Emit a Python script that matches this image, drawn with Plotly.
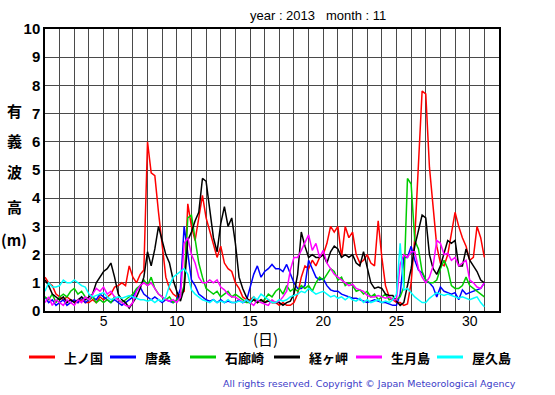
import plotly.graph_objects as go

# 6-hourly significant wave height (m), November 2013, rows = days 1..30 (00,06,12,18h), last value = day 31 00h
station_names = ["上ノ国", "唐桑", "石廊崎", "経ヶ岬", "生月島", "屋久島"]
station_colors = ["#ff0000", "#0000ff", "#00cc00", "#000000", "#ff00ff", "#00ffff"]

kaminokuni = [
    1.2, 1.0, 0.9, 0.6,  0.5, 0.4, 0.5, 0.4,  0.35, 0.3, 0.4, 0.3,  0.3, 0.4, 0.3, 0.5,
    0.4, 0.5, 0.6, 0.85,  0.9, 1.0, 0.9, 1.6,  1.2, 1.0, 1.3, 1.45,  6.0, 4.9, 4.8, 3.5,
    2.3, 1.2, 0.8, 0.6,  0.5, 0.6, 0.7, 3.8,  3.0, 2.5, 3.3, 4.1,  3.3, 2.8, 2.3, 1.9,
    2.3, 1.7, 1.5, 1.4,  1.0, 0.8, 0.5, 0.4,  0.4, 0.5, 0.3, 0.4,  0.3, 0.4, 0.3, 0.3,
    0.2, 0.3, 0.2, 0.2,  0.3, 0.6, 1.2, 1.6,  1.5, 1.8, 1.6, 1.9,  2.0, 2.4, 3.0, 2.8,
    3.0, 1.9, 3.0, 2.6,  2.8, 2.0, 1.7, 1.8,  2.0, 1.7, 1.6, 3.2,  1.9, 0.9, 0.5, 0.4,
    0.3, 0.3, 0.2, 0.25,  1.0, 2.6, 5.0, 7.8,  7.7, 5.1, 3.7, 2.3,  1.7, 1.6, 2.0, 2.8,
    3.5, 3.0, 2.6, 2.3,  1.8, 1.9, 3.0, 2.6,  1.9]
karakuwa = [
    0.5, 0.3, 0.4, 0.2,  0.3, 0.4, 0.2, 0.3,  0.4, 0.3, 0.5, 0.3,  0.4, 0.5, 0.4, 0.6,
    0.5, 0.4, 0.3, 0.4,  0.3, 0.2, 0.3, 0.4,  0.5, 0.75, 0.85, 0.6,  0.5, 0.4, 0.5, 0.4,
    0.3, 0.4, 0.35, 0.3,  0.4, 0.8, 3.0, 2.0,  1.1, 0.9, 0.6, 0.5,  0.4, 0.35, 0.4, 0.3,
    0.4, 0.3, 0.35, 0.3,  0.3, 0.4, 0.3, 0.35,  0.8, 1.3, 1.6, 1.2,  1.4, 1.5, 1.65, 1.5,
    1.5, 1.4, 1.65, 1.3,  1.0, 0.8, 0.8, 0.9,  1.8, 1.5, 1.2, 1.1,  1.15, 0.9, 0.75, 0.7,
    0.7, 0.6, 0.55, 0.5,  0.45, 0.45, 0.4, 0.35,  0.3, 0.35, 0.4, 0.35,  0.3, 0.3, 0.25, 0.2,
    0.2, 0.6, 1.9, 1.9,  2.3, 1.8, 1.45, 1.35,  1.1, 1.0, 0.85, 0.5,  0.85, 0.7, 0.65, 0.6,
    0.65, 0.4, 0.75, 0.6,  0.65, 0.7, 0.75, 0.8,  1.0]
irozaki = [
    0.5, 0.4, 0.6, 0.3,  0.5, 0.6, 0.5, 0.7,  0.8, 0.6, 0.7, 0.5,  0.4, 0.5, 0.3, 0.4,
    0.3, 0.4, 0.3, 0.5,  0.4, 0.3, 0.4, 0.5,  0.6, 0.8, 0.9, 1.1,  0.9, 1.2, 0.8, 0.6,
    0.5, 0.4, 0.5, 0.3,  0.4, 0.5, 0.9, 3.3,  3.4, 2.5, 1.7, 1.2,  0.8, 0.7, 0.6, 0.7,
    0.5, 0.6, 0.7, 0.5,  0.6, 0.5, 0.4, 0.3,  0.3, 0.4, 0.3, 0.35,  0.4, 0.6, 0.5, 0.7,
    0.8, 0.6, 0.9, 0.7,  0.8, 0.7, 0.9, 0.8,  0.9, 0.7, 1.0, 1.2,  1.1, 1.3, 1.5, 1.4,
    1.1, 1.2, 0.9, 1.0,  0.9, 0.7, 0.75, 0.6,  0.7, 0.5, 0.6, 0.4,  0.5, 0.6, 0.4, 0.45,
    0.4, 0.5, 0.85, 4.7,  4.5, 2.5, 2.2, 1.4,  1.1, 1.0, 1.0, 1.1,  1.5, 1.8, 1.5, 0.9,
    0.8, 0.8, 0.9, 1.2,  0.9, 0.8, 0.7, 0.6,  0.5]
kyogamisaki = [
    1.1, 0.9, 0.6, 0.5,  0.4, 0.5, 0.3, 0.4,  0.3, 0.4, 0.5, 0.4,  0.5, 0.6, 1.0, 1.2,
    1.4, 1.5, 1.7, 1.2,  0.6, 0.4, 0.3, 0.1,  0.3, 0.5, 0.8, 1.2,  2.1, 1.6, 2.2, 3.0,
    2.5, 2.0, 1.7, 1.1,  0.7, 0.35, 0.8, 2.5,  2.8, 3.2, 3.5, 4.7,  4.6, 3.5, 2.6, 2.1,
    3.1, 3.7, 3.0, 3.3,  2.4, 1.2, 0.8, 0.5,  0.3, 0.4, 0.3, 0.4,  0.3, 0.35, 0.3, 0.3,
    0.3, 0.2, 0.3, 0.35,  0.6, 1.3, 2.8, 2.3,  1.9, 2.0, 1.9, 1.9,  2.0, 1.7, 2.1, 2.3,
    2.2, 1.9, 2.0, 1.9,  2.0, 1.7, 1.6, 2.1,  1.5, 1.0, 0.8, 0.85,  0.8, 0.6, 0.55, 0.55,
    0.35, 0.2, 0.3, 0.9,  1.5, 2.3, 2.9, 3.4,  3.3, 2.0, 1.5, 1.3,  1.6, 2.1, 2.5, 2.4,
    2.5, 1.6, 1.6, 2.2,  1.8, 1.6, 1.4, 1.1,  1.0]
ikitsukishima = [
    0.3, 0.5, 0.2, 0.4,  0.3, 0.2, 0.4, 0.3,  0.2, 0.4, 0.3, 0.5,  0.4, 0.6, 0.8, 0.7,
    0.85, 0.6, 0.7, 0.5,  0.4, 0.3, 0.2, 0.15,  0.3, 0.7, 0.9, 1.0,  0.9, 1.0, 0.8, 0.6,
    0.5, 0.4, 0.35, 0.4,  0.3, 0.5, 2.4, 2.6,  2.0, 1.7, 1.2, 1.0,  1.0, 1.1, 1.0, 1.1,
    0.85, 0.75, 0.6, 0.5,  0.5, 0.4, 0.3, 0.4,  0.3, 0.2, 0.4, 0.3,  0.25, 0.2, 0.4, 0.3,
    0.35, 0.5, 0.7, 1.45,  1.9, 1.9, 2.15, 2.4,  2.7, 2.15, 2.4, 1.9,  2.15, 1.7, 1.5, 1.3,
    1.2, 1.1, 1.0, 0.9,  0.95, 0.8, 0.75, 0.7,  0.55, 0.5, 0.5, 0.55,  0.5, 0.45, 0.5, 0.4,
    0.4, 1.65, 2.0, 1.9,  2.1, 2.1, 1.5, 1.2,  1.0, 1.2, 1.6, 2.5,  2.4, 2.0, 2.05, 1.8,
    1.9, 1.6, 1.7, 1.8,  1.1, 1.0, 0.85, 0.8,  1.0]
yakushima = [
    0.7, 1.0, 0.85, 0.85,  0.9, 1.1, 1.0, 1.0,  1.1, 1.0, 0.9, 0.85,  0.6, 0.5, 0.55, 0.6,
    0.65, 0.5, 0.4, 0.45,  0.5, 0.45, 0.5, 0.55,  0.5, 0.45, 0.4, 0.4,  0.35, 0.4, 0.3, 0.4,
    0.35, 0.5, 0.9, 1.2,  1.3, 1.4, 1.5, 1.3,  0.75, 0.6, 0.5, 0.4,  0.35, 0.3, 0.4, 0.3,
    0.35, 0.3, 0.4, 0.3,  0.3, 0.35, 0.3, 0.4,  0.3, 0.5, 0.4, 0.6,  0.5, 0.4, 0.3, 0.3,
    0.4, 0.35, 0.4, 0.5,  0.55, 0.6, 0.7, 0.65,  0.8, 0.7, 0.6, 0.65,  0.7, 0.6, 0.5, 0.55,
    0.45, 0.5, 0.4, 0.5,  0.4, 0.35, 0.45, 0.3,  0.4, 0.3, 0.35, 0.4,  0.3, 0.35, 0.3, 0.4,
    0.6, 2.4, 0.75, 0.8,  0.65, 0.5, 0.4, 0.3,  0.3, 0.45, 0.55, 0.65,  0.6, 0.55, 0.6, 0.55,
    0.5, 0.45, 0.5, 0.45,  0.4, 0.45, 0.5, 0.3,  0.15]

series = [kaminokuni, karakuwa, irozaki, kyogamisaki, ikitsukishima, yakushima]
x_ticks = [5, 10, 15, 20, 25, 30]
y_ticks = list(range(0, 11))

days = [1 + i / 4 for i in range(len(kaminokuni))]

fig = go.Figure()
for name, color, vals in zip(station_names, station_colors, series):
    fig.add_trace(go.Scatter(x=days, y=vals, mode="lines", name=name,
                             line=dict(color=color, width=1.5), showlegend=False))

# plot area geometry in pixels
L, R, T, B, W, H = 45, 499, 29, 311, 555, 395
def px(x):
    return (x - L) / (R - L)
def py(y):
    return (B - y) / (B - T)

grid_c = "#4a4a4a"
fig.update_layout(
    width=W, height=H,
    margin=dict(l=L, r=W - R, t=T, b=H - B, pad=0, autoexpand=False),
    paper_bgcolor="white", plot_bgcolor="white",
    font=dict(family="Liberation Sans, Arial, sans-serif", color="black"),
    showlegend=False,
    xaxis=dict(range=[1, 32], tickmode="array", tickvals=x_ticks,
               ticktext=[str(v) for v in x_ticks], automargin=False,
               showgrid=True, gridcolor=grid_c, gridwidth=1,
               minor=dict(tick0=1, dtick=1, showgrid=True, gridcolor=grid_c, gridwidth=1),
               showline=True, linecolor="black", linewidth=1.5, mirror=True,
               zeroline=False, ticks="", ticklen=0, ticklabelstandoff=-4,
               tickfont=dict(size=14, family="Liberation Sans, Arial")),
    yaxis=dict(range=[0, 10], tickmode="array", tickvals=y_ticks, automargin=False,
               showgrid=True, gridcolor=grid_c, gridwidth=1,
               showline=True, linecolor="black", linewidth=1.5, mirror=True,
               zeroline=False, ticks="", ticklen=0,
               tickfont=dict(size=15, family="Liberation Sans, Arial", weight="bold")),
)

ann = []
shapes = []
def note(text, x, y, size, family, xanchor="center", color="black", weight="normal"):
    ann.append(dict(text=text, x=px(x), y=py(y), xref="paper", yref="paper",
                    xanchor=xanchor, yanchor="middle", showarrow=False,
                    font=dict(size=size, family=family, color=color, weight=weight)))

note("year : 2013   month : 11", 318, 15, 13, "Liberation Sans, Arial")
for ch, yy in zip(["有", "義", "波", "高", "(m)"], [110, 140, 171, 206, 239]):
    note(ch, 14, yy, 15, "Noto Sans CJK JP", weight="bold")
note("(日)", 265, 338, 15, "Noto Sans CJK JP")
note("All rights reserved. Copyright © Japan Meteorological Agency", 518, 384, 9.5,
     "DejaVu Sans", xanchor="right", color="#3c3cc8")

# legend (swatch + label), one entry per station
legend_x0 = [29, 110, 190, 274, 356, 437]
for name, color, x0 in zip(station_names, station_colors, legend_x0):
    shapes.append(dict(type="line", xref="paper", yref="paper",
                       x0=px(x0), x1=px(x0 + 26), y0=py(357), y1=py(357),
                       line=dict(color=color, width=3)))
    note(name, x0 + 33, 357, 13, "Noto Sans CJK JP", xanchor="left", weight="bold")
fig.update_layout(annotations=ann, shapes=shapes)

fig.write_html("out.html", config={"displayModeBar": False},
               post_script="document.body.style.margin='0';")
